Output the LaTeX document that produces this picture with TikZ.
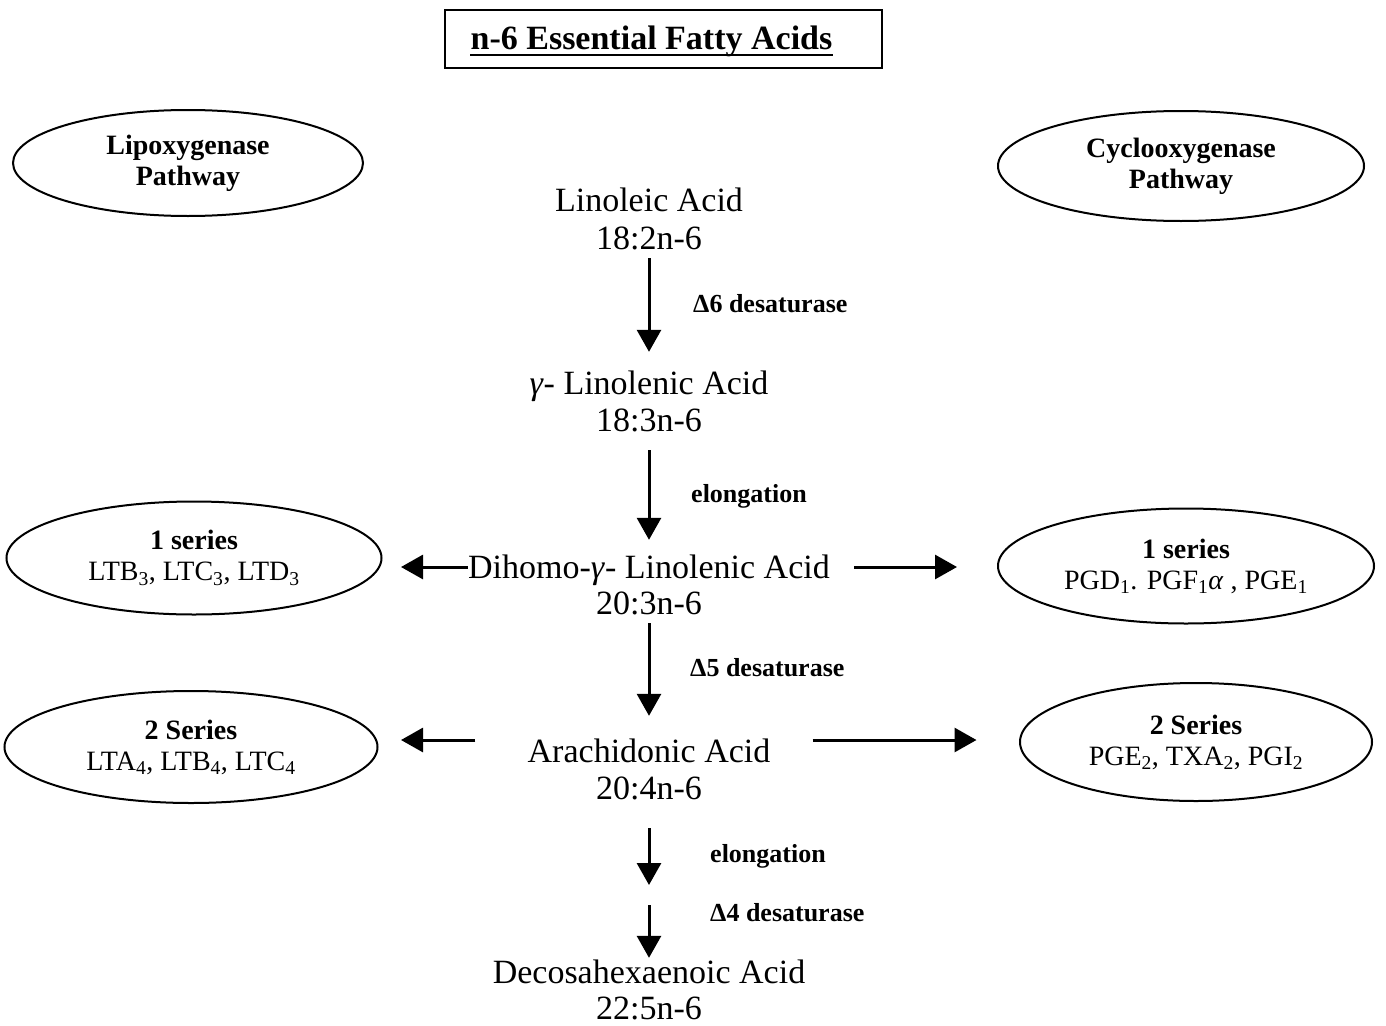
\documentclass[tikz,border=0pt]{standalone}
\usepackage{fontspec}
\setmainfont{Liberation Serif}
\usetikzlibrary{shapes.geometric,arrows.meta,calc}
\begin{document}
\begin{tikzpicture}[x=1pt,y=-1pt,
  main/.style={font=\fontsize{34}{38}\selectfont, inner sep=0pt, text height=23pt, text depth=7pt},
  lab/.style={font=\bfseries\fontsize{26}{30}\selectfont, inner sep=0pt, anchor=west},
  oval/.style={ellipse, draw, line width=2pt, inner sep=0pt, align=center, font=\fontsize{28}{31}\selectfont},
  arr/.style={-{Triangle[width=24pt,length=22pt]}, line width=3pt}]
\useasboundingbox (0,0) rectangle (1386,1025);
% title
\node[draw, line width=2.5pt, minimum width=437pt, minimum height=58pt, inner sep=0pt] (titlebox) at (663.5,39) {};
\node[font=\bfseries\fontsize{34}{38}\selectfont, inner sep=0pt, anchor=base] (title) at (651.5,50) {n-6 Essential Fatty Acids};
\draw[line width=2.5pt] ([yshift=-5pt]title.base west) -- ([yshift=-5pt]title.base east);
% pathway ellipses
\node[oval, font=\bfseries\fontsize{28}{31}\selectfont, minimum width=350pt, minimum height=106pt] (lipo) at (188,163) {Lipoxygenase\\Pathway};
\node[oval, font=\bfseries\fontsize{28}{31}\selectfont, minimum width=366pt, minimum height=110pt] (cyclo) at (1181,166) {Cyclooxygenase\\Pathway};
% series ellipses
\node[oval, minimum width=375pt, minimum height=113pt] (ls1) at (194,558) {\textbf{1 series}\\LTB\textsubscript{3}, LTC\textsubscript{3}, LTD\textsubscript{3}};
\node[oval, minimum width=373pt, minimum height=112pt] (ls2) at (191,747) {\textbf{2 Series}\\LTA\textsubscript{4}, LTB\textsubscript{4}, LTC\textsubscript{4}};
\node[oval, minimum width=376pt, minimum height=115pt] (rs1) at (1186,566) {\textbf{1 series}\\PGD\textsubscript{1}. PGF\textsubscript{1}\textit{α} , PGE\textsubscript{1}};
\node[oval, minimum width=352pt, minimum height=118pt] (rs2) at (1196,742) {\textbf{2 Series}\\PGE\textsubscript{2}, TXA\textsubscript{2}, PGI\textsubscript{2}};
% main chain
\node[main] (lin) at (649,203.5) {Linoleic Acid};
\node[main] (linf) at (649,241.5) {18:2n-6};
\node[main] (gla) at (649,386.5) {\textit{γ}- Linolenic Acid};
\node[main] (glaf) at (649,423.5) {18:3n-6};
\node[main] (dgla) at (649,570.5) {Dihomo-\textit{γ}- Linolenic Acid};
\node[main] (dglaf) at (649,606.5) {20:3n-6};
\node[main] (aa) at (649,754.5) {Arachidonic Acid};
\node[main] (aaf) at (649,791.5) {20:4n-6};
\node[main] (dha) at (649,975.5) {Decosahexaenoic Acid};
\node[main] (dhaf) at (649,1011.5) {22:5n-6};
\coordinate (mid) at (649,895);
% labels
\node[lab] (l1) at (693,304) {Δ6 desaturase};
\node[lab] (l2) at (691,496) {elongation};
\node[lab] (l3) at (690,668) {Δ5 desaturase};
\node[lab] (l4) at (710,856) {elongation};
\node[lab] (l5) at (710,913) {Δ4 desaturase};
% vertical arrows
\draw[arr, shorten <=1.5pt, shorten >=19.5pt] (linf.south) -- (gla.north);
\draw[arr, shorten <=11.5pt, shorten >=15.5pt] (glaf.south) -- (dgla.north);
\draw[arr, shorten <=1.5pt, shorten >=23.5pt] (dglaf.south) -- (aa.north);
\draw[arr, shorten <=21.5pt, shorten >=10pt] (aaf.south) -- (mid);
\draw[arr, shorten <=10pt, shorten >=2.5pt] (mid) -- (dha.north);
% horizontal arrows
\coordinate (dl) at ([yshift=3.5pt]dgla.west);
\coordinate (dr) at ([yshift=3.5pt]dgla.east);
\coordinate (al) at ([yshift=14.5pt]aa.west);
\coordinate (ar) at ([yshift=14.5pt]aa.east);
\draw[arr, shorten >=18.5pt] (dl) -- (dl -| ls1.east);
\draw[arr, shorten <=24pt, shorten >=40pt] (dr) -- (dr -| rs1.west);
\draw[arr, shorten <=52pt, shorten >=22.5pt] (al) -- (al -| ls2.east);
\draw[arr, shorten <=42pt, shorten >=42.5pt] (ar) -- (ar -| rs2.west);
\end{tikzpicture}
\end{document}
